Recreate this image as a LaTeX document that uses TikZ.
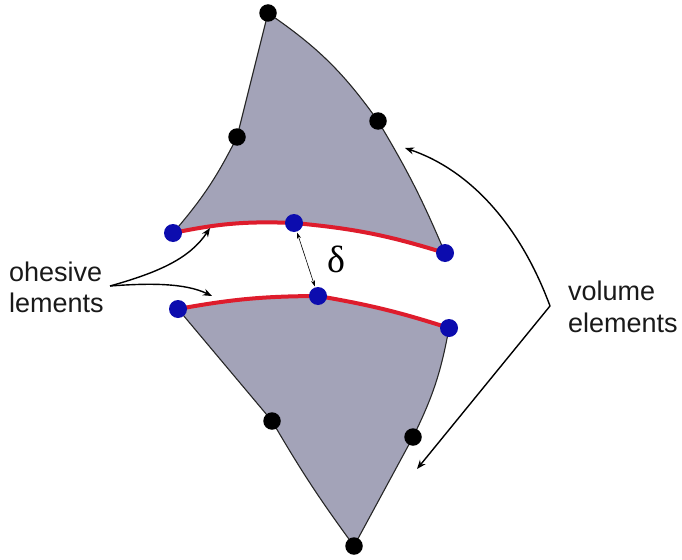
\documentclass[tikz,border=0pt]{standalone}
\usepackage{fontspec}
\setmainfont{Liberation Sans}
\newfontfamily\greekfont{Liberation Serif}
\usepackage{xcolor}
\usetikzlibrary{arrows.meta, positioning}
\definecolor{elemgray}{HTML}{A3A3B8}
\definecolor{cohred}{HTML}{DE1C2C}
\definecolor{cohblue}{HTML}{0C0CAE}
\tikzset{
  cornode/.style={circle,fill=black,minimum size=17.5pt,inner sep=0pt},
  cohnode/.style={circle,fill=cohblue,minimum size=18pt,inner sep=0pt},
  bordedge/.style={black!85,line width=1.1pt},
  cohedge/.style={cohred,line width=4pt},
  callout/.style={-{Stealth[length=9pt,width=7pt]},line width=1.4pt,black},
  gapedge/.style={{Stealth[length=6pt,width=4pt]}-{Stealth[length=6pt,width=4pt]},line width=.6pt,black,shorten <=1pt,shorten >=1pt},
  lbltext/.style={font=\fontsize{27}{33}\selectfont,inner sep=0pt,text=black!90},
}
\begin{document}
\begin{tikzpicture}[x=1pt,y=-1pt]
  \useasboundingbox (0,0) rectangle (682,559);
  % upper element
  \coordinate (uTop) at (268,13);
  \coordinate (uA) at (237,137);
  \coordinate (uB) at (378,121);
  \coordinate (uL) at (173,233);
  \coordinate (uM) at (294,223);
  \coordinate (uR) at (445,253);
  % lower element
  \coordinate (lL) at (178,309);
  \coordinate (lM) at (318,296);
  \coordinate (lR) at (449,328);
  \coordinate (lA) at (272,421);
  \coordinate (lB) at (413,437);
  \coordinate (lBot) at (354,546);
  \fill[elemgray] (uL) to[bend right=7] (uA) -- (uTop) to[bend left=10] (uB)
    to[bend left=4] (uR) to[bend right=6] (uM) to[bend right=7] (uL);
  \fill[elemgray] (lL) to[bend left=5] (lM) to[bend left=4] (lR) to[bend left=8] (lB)
    -- (lBot) to[bend left=3] (lA) -- (lL);
  \draw[bordedge] (uL) to[bend right=7] (uA);
  \draw[bordedge] (uA) -- (uTop);
  \draw[bordedge] (uTop) to[bend left=10] (uB);
  \draw[bordedge] (uB) to[bend left=4] (uR);
  \draw[bordedge] (lR) to[bend left=8] (lB);
  \draw[bordedge] (lB) -- (lBot);
  \draw[bordedge] (lBot) to[bend left=3] (lA);
  \draw[bordedge] (lA) -- (lL);
  \draw[bordedge,yshift=2.2pt] (lL) to[bend left=5] (lM);
  \draw[bordedge,yshift=2.2pt] (lM) to[bend left=4] (lR);
  \draw[cohedge] (uL) to[bend left=7] (uM);
  \draw[cohedge] (uM) to[bend left=6] (uR);
  \draw[cohedge] (lL) to[bend left=5] (lM);
  \draw[cohedge] (lM) to[bend left=4] (lR);
  \node[cornode] (nTop) at (uTop) {};
  \node[cornode] (nA) at (uA) {};
  \node[cornode] (nB) at (uB) {};
  \node[cornode] (nC) at (lA) {};
  \node[cornode] (nD) at (lB) {};
  \node[cornode] (nBot) at (lBot) {};
  \node[cohnode] (nUL) at (uL) {};
  \node[cohnode] (nUM) at (uM) {};
  \node[cohnode] (nUR) at (uR) {};
  \node[cohnode] (nLL) at (lL) {};
  \node[cohnode] (nLM) at (lM) {};
  \node[cohnode] (nLR) at (lR) {};
  \draw[gapedge] (nUM) -- (nLM);
  \node[inner sep=0pt,font=\fontsize{38}{38}\selectfont\greekfont] (nGap) at (336,259) {δ};
  \node[lbltext,anchor=base west] (nCoh1) at (9,281) {ohesive};
  \node[lbltext,anchor=base west] (nCoh2) at (9,312) {lements};
  \node[lbltext,anchor=base west] (nVol1) at (568,300) {volume};
  \node[lbltext,anchor=base west] (nVol2) at (568,332) {elements};
  \coordinate (cohFork) at (110,286);
  \coordinate (cohUp) at (210,228);
  \coordinate (cohLo) at (212,296);
  \coordinate (volFork) at (550,306);
  \coordinate (volUp) at (405,148);
  \coordinate (volLo) at (417,469);
  \draw[callout] (cohFork) .. controls (160,272) and (190,258) .. (cohUp);
  \draw[callout] (cohFork) .. controls (150,283) and (185,283) .. (cohLo);
  \draw[callout] (volFork) .. controls (520,225) and (470,170) .. (volUp);
  \draw[callout] (volFork) -- (volLo);
\end{tikzpicture}
\end{document}
